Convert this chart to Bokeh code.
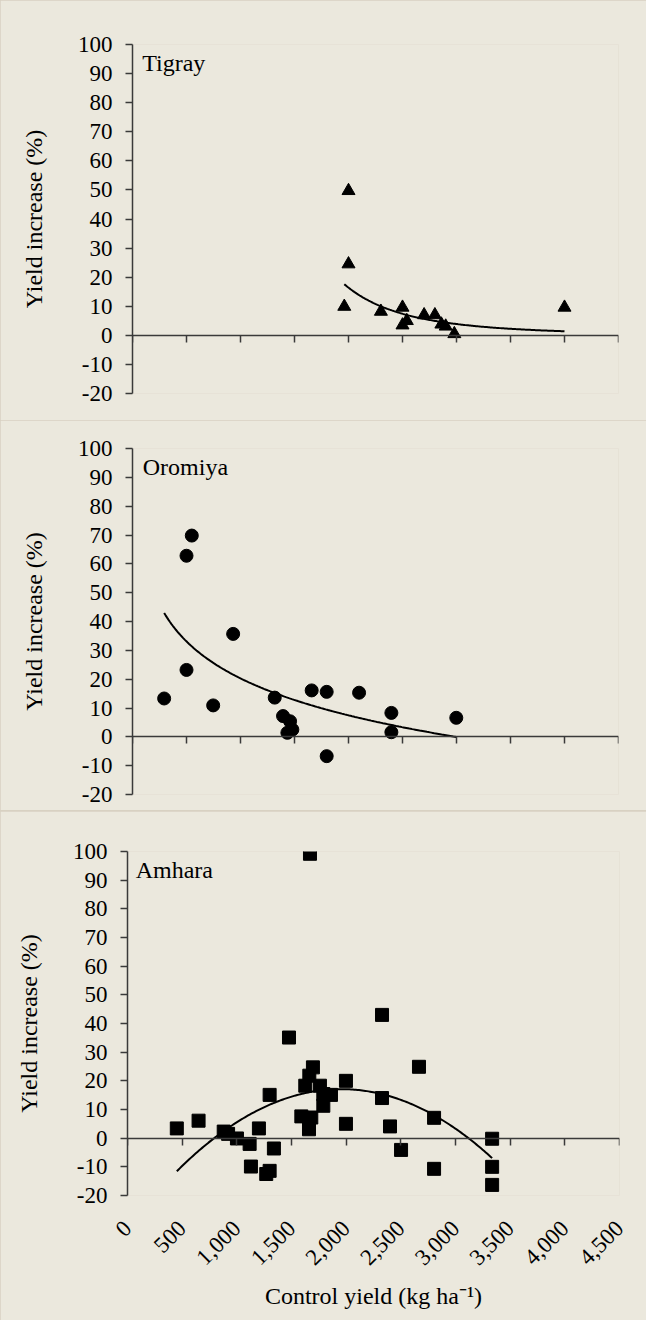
import numpy as np
from bokeh.plotting import figure
from bokeh.models import (Range1d, FixedTicker, NumeralTickFormatter,
                          CustomJSTickFormatter, LinearAxis, Label)
from bokeh.layouts import column
from bokeh.embed import file_html
from bokeh.resources import INLINE

# ---------------- data ----------------
X_TICKS = [0, 500, 1000, 1500, 2000, 2500, 3000, 3500, 4000, 4500]
Y_TICKS = [-20, -10, 0, 10, 20, 30, 40, 50, 60, 70, 80, 90, 100]

tigray_x = [1961, 2000, 2000, 2300, 2500, 2500, 2540, 2700, 2800, 2860, 2900, 2980, 4000]
tigray_y = [9.9, 49.7, 24.5, 8.2, 9.6, 3.5, 5.0, 7.0, 7.0, 3.8, 3.1, 0.5, 9.6]

oromiya_x = [293, 500, 549, 500, 747, 932, 1317, 1394, 1459, 1434, 1480, 1659,
             1798, 1798, 2098, 2397, 2397, 2998]
oromiya_y = [13.3, 62.8, 69.8, 23.2, 10.9, 35.7, 13.6, 7.2, 5.4, 1.4, 2.5, 16.1,
             15.6, -6.7, 15.3, 8.3, 1.6, 6.6]

amhara_x = [451, 650, 880, 920, 1001, 1117, 1129, 1202, 1269, 1300, 1300, 1339,
            1477, 1590, 1626, 1660, 1663, 1669, 1681, 1696, 1760, 1791, 1791, 1861,
            1998, 1998, 2328, 2328, 2401, 2502, 2666, 2804, 2804, 3335, 3335, 3335]
amhara_y = [3.4, 6.1, 2.3, 1.5, -0.1, -2.0, -9.9, 3.4, -12.5, 15.1, -11.4, -3.6,
            35.1, 7.6, 18.3, 3.1, 21.8, 99.2, 7.2, 24.7, 18.3, 15.4, 11.3, 15.1,
            20.0, 5.0, 43.0, 14.0, 4.1, -4.1, 24.9, 7.1, -10.7, -0.2, -10.0, -16.3]

# trend lines (as drawn in the original): power, logarithmic, quadratic
TIGRAY_POWER = (8.58e12, -3.55)
TIGRAY_RANGE = (1961, 4000)
OROMIYA_LOG = (148.0, -18.49)
OROMIYA_RANGE = (293, 2998)
AMHARA_QUAD = (-1.265e-5, 0.04948, -31.28)
AMHARA_RANGE = (451, 3335)

REGIONS = ["Tigray", "Oromiya", "Amhara"]

# ---------------- style ----------------
BG = "#ebe8dd"
SEP = "#d8d1c2"
AXIS_C = "#3a3a3a"
FONT = "'Liberation Serif', 'Times New Roman', serif"


def make_panel(width, height, left, right, top, bottom, region, label_x):
    p = figure(width=width, height=height,
               x_range=Range1d(0, 4500), y_range=Range1d(-20, 100),
               output_backend="svg", toolbar_location=None,
               min_border_left=left, min_border_right=right,
               min_border_top=top, min_border_bottom=bottom)
    p.background_fill_color = BG
    p.border_fill_color = BG
    p.outline_line_color = None
    p.grid.visible = False

    ya = p.yaxis[0]
    ya.ticker = FixedTicker(ticks=Y_TICKS)
    ya.formatter = CustomJSTickFormatter(code="return tick.toString()")
    ya.axis_line_color = AXIS_C
    ya.axis_line_width = 1.5
    ya.major_tick_line_color = AXIS_C
    ya.major_tick_line_width = 1.5
    ya.major_tick_out = 7
    ya.major_tick_in = 0
    ya.minor_tick_line_color = None
    ya.major_label_standoff = 13
    ya.major_label_text_font = FONT
    ya.major_label_text_font_size = "23px"
    ya.major_label_text_color = "#000000"
    ya.axis_label = "Yield increase (%)"
    ya.axis_label_text_font = FONT
    ya.axis_label_text_font_size = "24px"
    ya.axis_label_text_font_style = "normal"
    ya.axis_label_text_color = "#000000"
    ya.axis_label_standoff = 28

    p.add_layout(Label(x=label_x, y=98, text=region, text_baseline="top",
                       text_font=FONT, text_font_size="24px",
                       text_color="#000000"))
    return p


def style_zero_axis(ax):
    ax.fixed_location = 0
    ax.ticker = FixedTicker(ticks=X_TICKS)
    ax.formatter = CustomJSTickFormatter(code="return ''")
    ax.axis_line_color = AXIS_C
    ax.axis_line_width = 1.5
    ax.major_tick_line_color = AXIS_C
    ax.major_tick_line_width = 1.5
    ax.major_tick_out = 7
    ax.major_tick_in = 0
    ax.minor_tick_line_color = None
    ax.major_label_standoff = 0


# ---------- Tigray ----------
p1 = make_panel(646, 420, 129, 23, 44, 27, REGIONS[0], 90)
style_zero_axis(p1.xaxis[0])
p1.scatter(tigray_x, tigray_y, marker="triangle", size=13,
           fill_color="black", line_color="black")
tx = np.linspace(TIGRAY_RANGE[0], TIGRAY_RANGE[1], 200)
p1.line(tx, TIGRAY_POWER[0] * tx ** TIGRAY_POWER[1], line_color="black", line_width=2)

# ---------- Oromiya ----------
p2 = make_panel(646, 390, 132, 28, 28, 16, REGIONS[1], 95)
style_zero_axis(p2.xaxis[0])
p2.scatter(oromiya_x, oromiya_y, marker="circle", size=13,
           fill_color="black", line_color="black")
ox = np.linspace(OROMIYA_RANGE[0], OROMIYA_RANGE[1], 200)
p2.line(ox, OROMIYA_LOG[0] + OROMIYA_LOG[1] * np.log(ox), line_color="black", line_width=2)

# ---------- Amhara ----------
p3 = make_panel(646, 509, 127, 27, 40, 125, REGIONS[2], 75)
xa = p3.xaxis[0]
xa.ticker = FixedTicker(ticks=X_TICKS)
xa.formatter = NumeralTickFormatter(format="0,0")
xa.axis_line_color = None
xa.major_tick_line_color = None
xa.minor_tick_line_color = None
xa.major_tick_out = 0
xa.major_tick_in = 0
xa.major_label_orientation = np.pi / 4
xa.major_label_standoff = 29
xa.major_label_text_font = FONT
xa.major_label_text_font_size = "23px"
xa.major_label_text_color = "#000000"
xa.axis_label = "Control yield (kg ha\u207b\u00b9)"
xa.axis_label_text_font = FONT
xa.axis_label_text_font_size = "24px"
xa.axis_label_text_font_style = "normal"
xa.axis_label_text_color = "#000000"
xa.axis_label_standoff = 8

zero_axis = LinearAxis()
style_zero_axis(zero_axis)
p3.add_layout(zero_axis, "below")

p3.scatter(amhara_x, amhara_y, marker="square", size=13,
           fill_color="black", line_color="black")
ax_ = np.linspace(AMHARA_RANGE[0], AMHARA_RANGE[1], 200)
p3.line(ax_, AMHARA_QUAD[0] * ax_ ** 2 + AMHARA_QUAD[1] * ax_ + AMHARA_QUAD[2],
        line_color="black", line_width=2)

top_block = column(p1, p2, spacing=0)
layout = column(top_block, p3, spacing=1, styles={"background-color": SEP})

open("out.html", "w").write(file_html(layout, INLINE))
